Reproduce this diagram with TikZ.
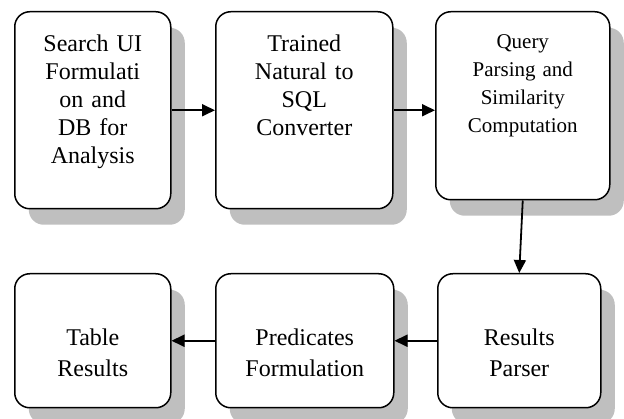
\documentclass[tikz,border=0pt]{standalone}
\usepackage{fontspec}
\setmainfont{Liberation Serif}
\usetikzlibrary{arrows.meta,shadows}

\begin{document}
\begin{tikzpicture}[x=1pt, y=-1pt,
    stage/.style={draw, line width=1.5pt, rounded corners=15pt, fill=white, inner sep=0pt, align=center, anchor=north west,
      drop shadow={shadow xshift=14pt, shadow yshift=-16pt, opacity=1, fill=black!25}},
    toptext/.style={font=\fontsize{24}{28}\selectfont, text height=40pt, text depth=157pt},
    lowtext/.style={font=\fontsize{24}{31}\selectfont, text height=72pt, text depth=62pt},
    flow/.style={-{Triangle[length=13pt, width=12pt]}, line width=1.8pt}
  ]
    \useasboundingbox (0,0) rectangle (624,419);
    % top row
    \node[stage, toptext, text width=156pt] (search) at (14,11) {Search UI\\Formulati\\on and\\DB for\\Analysis};
    \node[stage, toptext, text width=177pt] (trained) at (215,11) {Trained\\Natural to\\SQL\\Converter};
    \node[stage, text width=174pt, font=\fontsize{21}{28}\selectfont, text height=37pt, text depth=151pt] (query) at (435,11) {Query\\Parsing and\\Similarity\\Computation};
    % bottom row
    \node[stage, lowtext, text width=163pt] (parser) at (437,273) {Results\\Parser};
    \node[stage, lowtext, text width=178pt] (predicates) at (215,273) {Predicates\\Formulation};
    \node[stage, lowtext, text width=156pt] (table) at (14,273) {Table\\Results};
    \draw[flow] (search) -- (trained);
    \draw[flow] (trained.east) -- (trained.east -| query.west);
    \draw[flow] (query.south) -- (parser.north);
    \draw[flow] (parser) -- (predicates);
    \draw[flow] (predicates) -- (table);
\end{tikzpicture}
\end{document}
